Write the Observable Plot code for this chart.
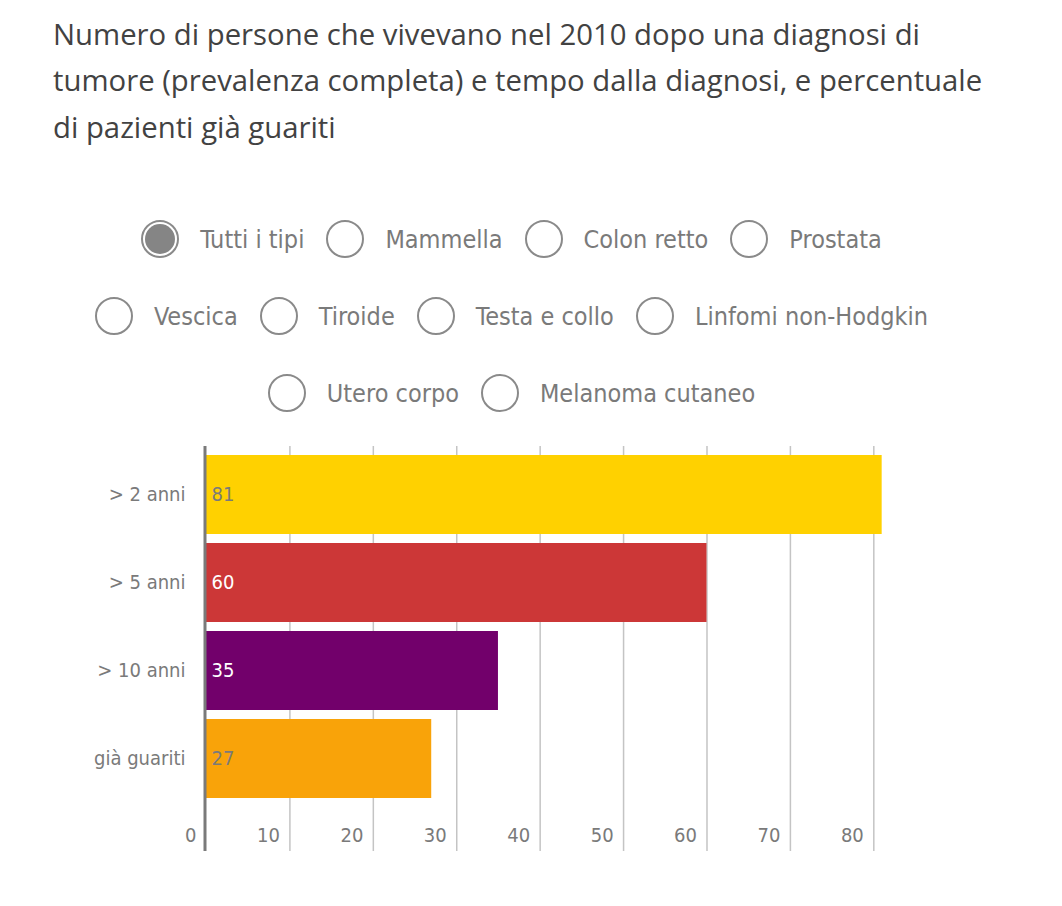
<!DOCTYPE html>
<html>
<head>
<meta charset="utf-8">
<script src="https://cdn.jsdelivr.net/npm/d3@7"></script>
<script src="https://cdn.jsdelivr.net/npm/@observablehq/plot@0.6"></script>
<style>
  html, body { margin: 0; padding: 0; background: #fff; }
  body { width: 1062px; height: 906px; position: relative; overflow: hidden; }
  #title {
    position: absolute; left: 53px; top: 10.5px; width: 1000px; white-space: nowrap;
    font-family: "Open Sans", sans-serif; font-size: 29.3px; line-height: 46.6px;
    color: #424242;
  }
  #radios { position: absolute; left: 0; top: 200.5px; width: 1023px; }
  .row { display: flex; justify-content: center; align-items: center; height: 77px; }
  .item { display: flex; align-items: center; margin: 0 11px; }
  .circ { width: 34px; height: 34px; border: 2px solid #8a8a8a; border-radius: 50%; position: relative; background: #fff; box-sizing: content-box; }
  .circ.on::after { content: ""; position: absolute; left: 2px; top: 2px; width: 30px; height: 30px; border-radius: 50%; background: #858585; }
  .lab { margin-left: 21px; font-family: "DejaVu Sans Condensed", sans-serif; font-size: 25px; color: #7a7a7a; }
  #chart { position: absolute; left: 0; top: 430px; }
</style>
</head>
<body>
<div id="title">Numero di persone che vivevano nel 2010 dopo una diagnosi di<br>tumore (prevalenza completa) e tempo dalla diagnosi, e percentuale<br>di pazienti già guariti</div>
<div id="radios"></div>
<div id="chart"></div>
<script>
// ---- data ----
const categories = ["> 2 anni", "> 5 anni", "> 10 anni", "già guariti"];
const values = [81, 60, 35, 27];
const labels = ["81", "60", "35", "27"];
const xTicks = [0, 10, 20, 30, 40, 50, 60, 70, 80];
const tumorTypes = [
  ["Tutti i tipi", "Mammella", "Colon retto", "Prostata"],
  ["Vescica", "Tiroide", "Testa e collo", "Linfomi non-Hodgkin"],
  ["Utero corpo", "Melanoma cutaneo"]
];
const selectedType = "Tutti i tipi";

// ---- styles ----
const barColors = ["#ffd100", "#cc3737", "#72006b", "#f9a309"];
const labelFill = ["#7a7a7a", "#ffffff", "#ffffff", "#7a7a7a"];
const narrow = '"DejaVu Sans Condensed", sans-serif';

// radio rows
const radios = document.getElementById("radios");
tumorTypes.forEach(row => {
  const r = document.createElement("div");
  r.className = "row";
  row.forEach(name => {
    const it = document.createElement("div");
    it.className = "item";
    const c = document.createElement("div");
    c.className = "circ" + (name === selectedType ? " on" : "");
    const l = document.createElement("span");
    l.className = "lab";
    l.textContent = name;
    it.appendChild(c); it.appendChild(l);
    r.appendChild(it);
  });
  radios.appendChild(r);
});

const data = categories.map((c, i) => ({cat: c, value: values[i], label: labels[i], color: barColors[i], lf: labelFill[i]}));

const chart = Plot.plot({
  width: 1062,
  height: 440,
  marginLeft: 206,
  marginRight: 172,
  marginTop: 16,
  marginBottom: 19,
  style: {fontFamily: narrow, fontSize: "20px", color: "#7a7a7a", background: "transparent"},
  x: {domain: [0, 82], axis: null},
  y: {domain: categories, paddingInner: 0.1, paddingOuter: 0, insetTop: 8, insetBottom: 51, label: null},
  marks: [
    Plot.ruleX(xTicks.filter(d => d > 0), {x: d => d, stroke: "#c4c4c4", strokeWidth: 1.5}),
    Plot.barX(data, {x: "value", y: "cat", fill: "color"}),
    Plot.ruleX([0], {stroke: "#7a7a7a", strokeWidth: 3, dx: -1.5}),
    Plot.text(data, {x: 0, y: "cat", text: "label", fill: "lf", textAnchor: "start", dx: 5, fontSize: 20}),
    Plot.axisY({tickSize: 0, tickPadding: 21, fontSize: 20, label: null}),
    Plot.text(xTicks, {x: d => d, text: d => String(d), frameAnchor: "bottom", textAnchor: "end", lineAnchor: "middle", dx: -10, dy: -16, fontSize: 20, fill: "#7a7a7a"})
  ]
});
document.getElementById("chart").appendChild(chart);
</script>
</body>
</html>
